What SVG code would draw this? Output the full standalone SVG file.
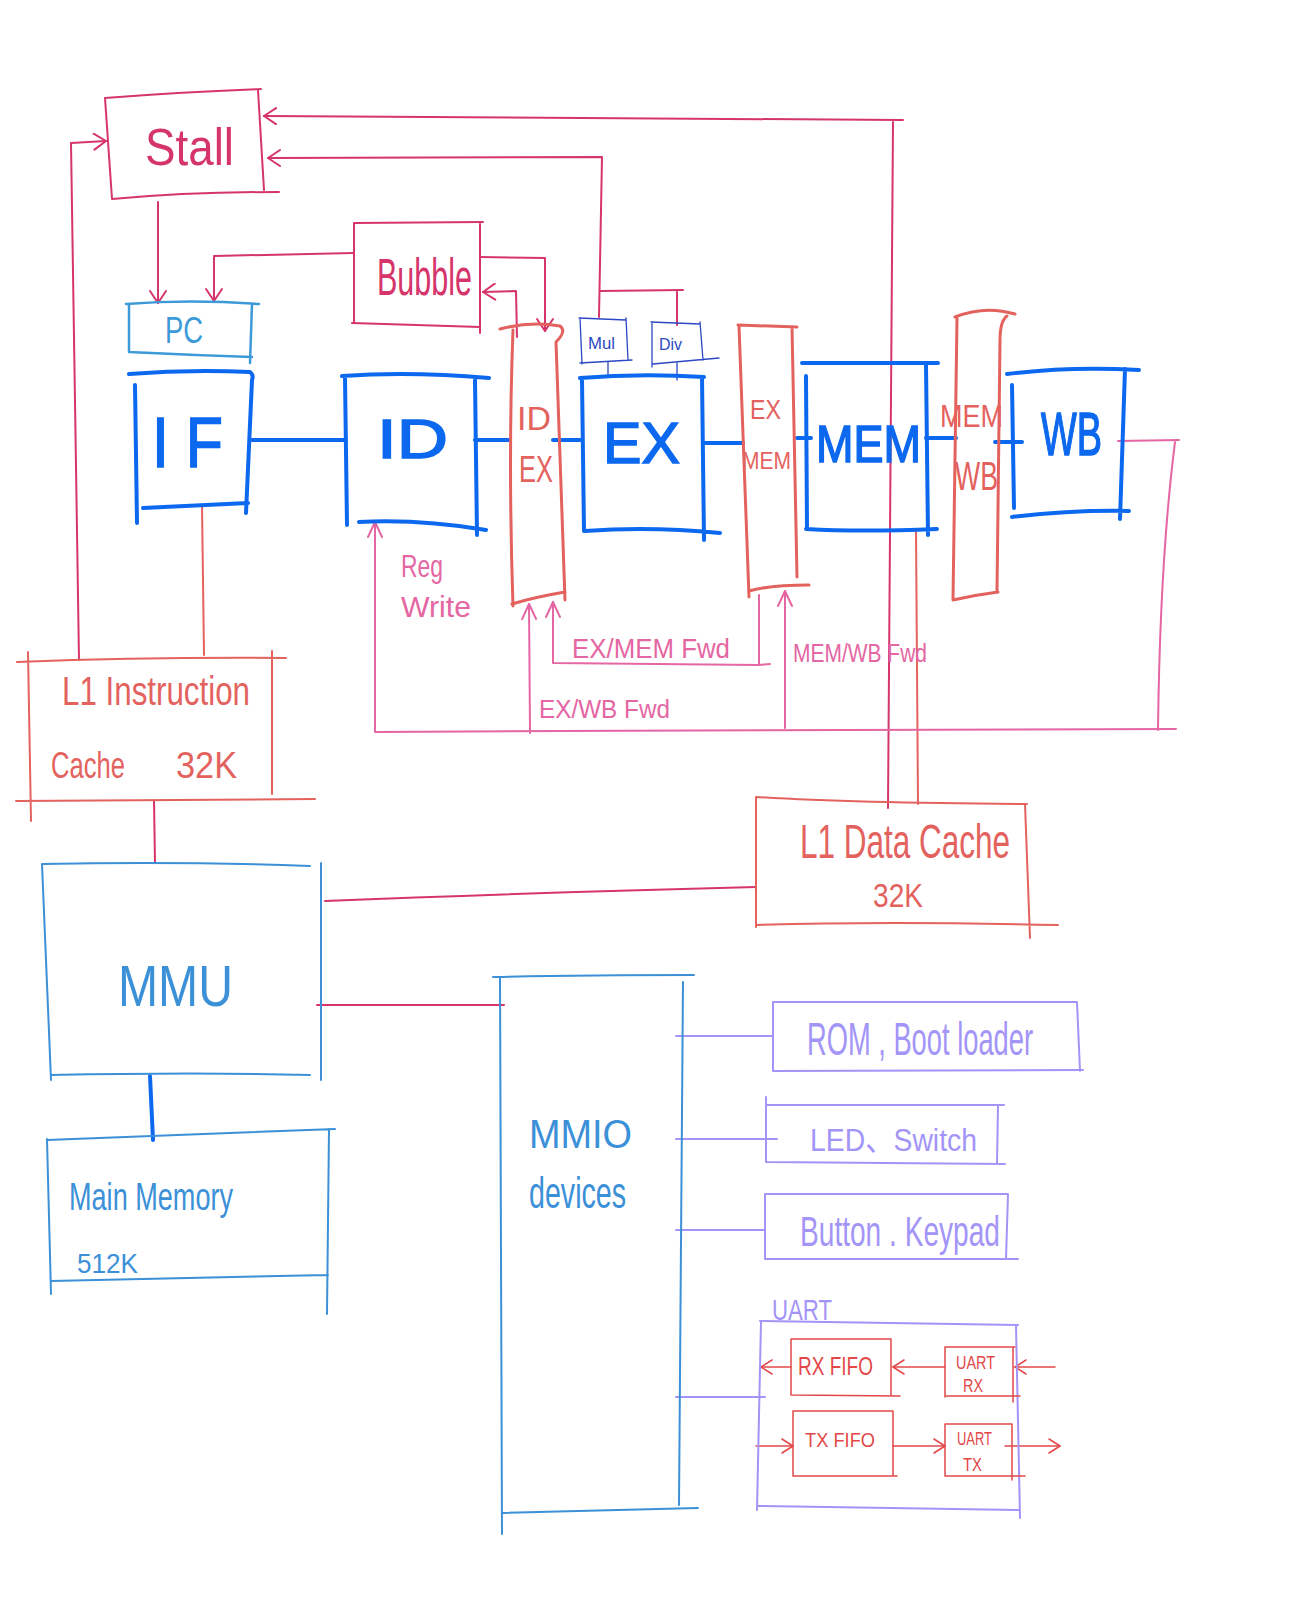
<svg xmlns="http://www.w3.org/2000/svg" width="1298" height="1614" viewBox="0 0 1298 1614">
<style>
path{fill:none;stroke-linecap:round;stroke-linejoin:round}
text{font-family:"Liberation Sans","Noto Sans CJK SC",sans-serif}
.cr{stroke:#d5356b;stroke-width:2}
.bl{stroke:#0c68ee;stroke-width:4}
.lb{stroke:#3d9ad8;stroke-width:2.5}
.sa{stroke:#e3625e;stroke-width:3}
.sa2{stroke:#e3625e;stroke-width:2}
.pk{stroke:#e466a3;stroke-width:2}
.mb{stroke:#3b90d8;stroke-width:2}
.pu{stroke:#a394f7;stroke-width:2}
.rd{stroke:#e2484a;stroke-width:1.5}
.db{stroke:#2c48c4;stroke-width:1.3}
.tcr{fill:#d5356b}
.tbl{fill:#0c68ee;stroke:#0c68ee;stroke-width:1.5}
.tlb{fill:#3d9ad8}
.tsa{fill:#e3625e}
.tpk{fill:#e466a3}
.tmb{fill:#3b90d8}
.tpu{fill:#a394f7}
.trd{fill:#e2484a}
.tdb{fill:#2c48c4}
</style>
<defs>
<marker id="aCr" viewBox="-14 -9 16 18" refX="0" refY="0" markerWidth="16" markerHeight="18" markerUnits="userSpaceOnUse" orient="auto"><path d="M-12,-8 L0,0 L-12,8" stroke="#d5356b" stroke-width="2"/></marker>
<marker id="aPk" viewBox="-16 -9 18 18" refX="0" refY="0" markerWidth="18" markerHeight="18" markerUnits="userSpaceOnUse" orient="auto"><path d="M-15,-7 L0,0 L-15,7" stroke="#e466a3" stroke-width="2"/></marker>
<marker id="aRd" viewBox="-14 -9 16 18" refX="0" refY="0" markerWidth="16" markerHeight="18" markerUnits="userSpaceOnUse" orient="auto"><path d="M-11,-7 L0,0 L-11,7" stroke="#e2484a" stroke-width="1.5"/></marker>
</defs>
<rect width="1298" height="1614" fill="#ffffff"/>

<g id="connectors">
<path class="cr" d="M79,660 L71,143 L106,141" marker-end="url(#aCr)"/>
<path class="cr" d="M888,808 L893,122 M903,120 L264,116" marker-end="url(#aCr)"/>
<path class="cr" d="M599,317 L602,157 L268,158" marker-end="url(#aCr)"/>
<path class="cr" d="M600,291 L683,290 M677,290 L677,325"/>
<path class="cr" d="M158,202 L158,303" marker-end="url(#aCr)"/>
<path class="cr" d="M354,253 L214,256 L214,301" marker-end="url(#aCr)"/>
<path class="cr" d="M480,257 L545,258 L545,331" marker-end="url(#aCr)"/>
<path class="cr" d="M517,337 L516,291 L483,292" marker-end="url(#aCr)"/>
<path class="cr" stroke-width="2.5" d="M325,901 Q520,893 756,887"/>
<path class="cr" stroke-width="2.5" d="M317,1005 L504,1005"/>
<path class="cr" stroke-width="3" d="M154,801 L155,863"/>
<path class="sa2" stroke-width="1.5" d="M202,505 L204,655"/>
<path class="sa2" d="M916,530 L918,804"/>
<path class="bl" d="M250,440 L346,440"/>
<path class="bl" d="M475,440 L509,440"/>
<path class="bl" d="M553,440 L582,440"/>
<path class="bl" d="M704,443 L743,443"/>
<path class="bl" d="M797,438 L811,438"/>
<path class="bl" d="M926,438 L956,438"/>
<path class="bl" d="M995,442 L1022,442"/>
<path class="bl" stroke-width="3" d="M150,1076 L153,1140"/>
<path class="pk" d="M1118,441 L1179,440 M1175,442 Q1160,560 1158,730"/>
<path class="pk" stroke-width="3" d="M1176,729 L560,731 L375,732 L375,522" marker-end="url(#aPk)"/>
<path class="pk" d="M530,733 L529,604" marker-end="url(#aPk)"/>
<path class="pk" d="M759,595 L759,665 L770,664 M759,665 L553,663 L553,602" marker-end="url(#aPk)"/>
<path class="pk" d="M785,728 L785,591" marker-end="url(#aPk)"/>
<path class="db" d="M608,362 L608,377 M677,363 L677,380"/>
<path class="pu" d="M676,1036 L773,1036 M676,1139 L777,1139 M676,1230 L765,1230 M676,1397 L765,1397"/>
<path class="rd" d="M1055,1367 L1015,1367" marker-end="url(#aRd)"/>
<path class="rd" d="M945,1367 L893,1367" marker-end="url(#aRd)"/>
<path class="rd" d="M791,1367 L761,1367" marker-end="url(#aRd)"/>
<path class="rd" d="M756,1446 L793,1446" marker-end="url(#aRd)"/>
<path class="rd" d="M893,1446 L945,1446" marker-end="url(#aRd)"/>
<path class="rd" d="M1005,1446 L1060,1446" marker-end="url(#aRd)"/>
</g>

<g id="stall">
<path class="cr" d="M105,98 Q180,92 261,89 M105,98 L112,199 M258,90 L264,190 M112,199 Q190,192 279,192"/>
<text x="145" y="165" font-size="52" textLength="89" lengthAdjust="spacingAndGlyphs" class="tcr">Stall</text>
</g>

<g id="bubble">
<path class="cr" d="M354,223 L483,222 M354,223 L354,323 M480,222 L480,333 M352,323 L480,327"/>
<text x="377" y="295" font-size="52" textLength="95" lengthAdjust="spacingAndGlyphs" class="tcr">Bubble</text>
</g>

<g id="pc">
<path class="lb" d="M126,304 Q190,299 259,304 M129,304 L129,352 M252,304 L250,363 M129,352 Q190,355 252,357"/>
<text x="165" y="343" font-size="36" textLength="38" lengthAdjust="spacingAndGlyphs" class="tlb">PC</text>
</g>

<g id="if">
<path class="bl" d="M129,374 Q190,369 250,372 Q254,375 252,380 L246,513 M135,385 L137,523 M143,508 L248,503"/>
<text x="152" y="467" font-size="70" textLength="71" lengthAdjust="spacingAndGlyphs" class="tbl">I F</text>
</g>

<g id="id">
<path class="bl" d="M342,376 Q410,371 489,378 M345,378 L347,525 M475,380 L477,535 M359,522 Q420,519 486,530"/>
<text x="377" y="458" font-size="56" textLength="71" lengthAdjust="spacingAndGlyphs" class="tbl">ID</text>
</g>

<g id="idex">
<path class="sa" d="M500,329 Q530,321 560,326 Q567,331 556,342 L565,600 M513,330 Q508,460 513,606 M512,604 Q535,597 565,592"/>
<text x="517" y="430" font-size="34" textLength="34" lengthAdjust="spacingAndGlyphs" class="tsa">ID</text>
<text x="519" y="482" font-size="36" textLength="34" lengthAdjust="spacingAndGlyphs" class="tsa">EX</text>
</g>

<g id="mul">
<path class="db" d="M579,318 L626,320 M626,318 L628,360 M580,363 L632,360 M580,318 L582,364"/>
<text x="588" y="349" font-size="16" textLength="27" lengthAdjust="spacingAndGlyphs" class="tdb">Mul</text>
</g>

<g id="div">
<path class="db" d="M651,322 L700,324 M700,322 L703,360 M653,364 L719,358 M652,322 L652,367"/>
<text x="659" y="350" font-size="17" textLength="23" lengthAdjust="spacingAndGlyphs" class="tdb">Div</text>
</g>

<g id="ex">
<path class="bl" d="M580,378 Q640,373 704,377 M582,380 L584,531 M702,377 L704,540 M585,531 Q650,526 720,533"/>
<text x="603" y="463" font-size="58" textLength="77" lengthAdjust="spacingAndGlyphs" class="tbl">EX</text>
</g>

<g id="exmem">
<path class="sa" d="M738,325 L797,327 M739,326 L749,597 M792,327 L797,577 M749,591 Q770,585 809,585"/>
<text x="750" y="419" font-size="28" textLength="31" lengthAdjust="spacingAndGlyphs" class="tsa">EX</text>
<text x="742" y="469" font-size="24" textLength="49" lengthAdjust="spacingAndGlyphs" class="tsa">MEM</text>
</g>

<g id="mem">
<path class="bl" d="M802,363 L938,363 M806,376 L807,529 M926,365 L928,535 M806,529 Q860,532 937,529"/>
<text x="816" y="462" font-size="52" textLength="105" lengthAdjust="spacingAndGlyphs" class="tbl">MEM</text>
</g>

<g id="memwb">
<path class="sa" d="M955,317 Q985,305 1015,314 M957,318 L953,600 M1007,316 Q1000,321 1000,340 L997,592 M953,600 Q975,595 998,592"/>
<text x="940" y="427" font-size="32" textLength="63" lengthAdjust="spacingAndGlyphs" class="tsa">MEM</text>
<text x="955" y="490" font-size="40" textLength="43" lengthAdjust="spacingAndGlyphs" class="tsa">WB</text>
</g>

<g id="wb">
<path class="bl" d="M1007,374 Q1070,366 1139,370 M1012,385 L1014,508 M1125,369 L1120,519 M1012,517 Q1070,510 1129,511"/>
<text x="1041" y="455" font-size="62" textLength="61" lengthAdjust="spacingAndGlyphs" class="tbl">WB</text>
</g>

<g id="labels">
<text x="401" y="577" font-size="32" textLength="42" lengthAdjust="spacingAndGlyphs" class="tpk">Reg</text>
<text x="401" y="617" font-size="30" textLength="70" lengthAdjust="spacingAndGlyphs" class="tpk">Write</text>
<text x="572" y="658" font-size="28" textLength="158" lengthAdjust="spacingAndGlyphs" class="tpk">EX/MEM  Fwd</text>
<text x="793" y="662" font-size="25" textLength="134" lengthAdjust="spacingAndGlyphs" class="tpk">MEM/WB Fwd</text>
<text x="539" y="718" font-size="25" textLength="131" lengthAdjust="spacingAndGlyphs" class="tpk">EX/WB  Fwd</text>
</g>

<g id="l1i">
<path class="sa2" d="M17,662 Q150,657 286,658 M28,652 L31,821 M272,651 L272,794 M16,801 L315,799"/>
<text x="62" y="705" font-size="40" textLength="188" lengthAdjust="spacingAndGlyphs" class="tsa">L1 Instruction</text>
<text x="51" y="778" font-size="36" textLength="74" lengthAdjust="spacingAndGlyphs" class="tsa">Cache</text>
<text x="176" y="778" font-size="36" textLength="61" lengthAdjust="spacingAndGlyphs" class="tsa">32K</text>
</g>

<g id="l1d">
<path class="sa2" d="M756,797 Q850,803 1027,804 M756,797 L756,927 M1025,804 L1030,938 M756,925 Q880,921 1058,925"/>
<text x="800" y="858" font-size="48" textLength="210" lengthAdjust="spacingAndGlyphs" class="tsa">L1 Data Cache</text>
<text x="873" y="907" font-size="34" textLength="50" lengthAdjust="spacingAndGlyphs" class="tsa">32K</text>
</g>

<g id="mmu">
<path class="mb" d="M42,864 Q180,861 310,866 M42,864 L51,1080 M321,863 L321,1080 M51,1075 Q200,1072 310,1075"/>
<text x="118" y="1006" font-size="58" textLength="115" lengthAdjust="spacingAndGlyphs" class="tmb">MMU</text>
</g>

<g id="mainmem">
<path class="mb" d="M47,1140 Q190,1134 335,1129 M47,1139 L51,1294 M329,1129 L327,1314 M51,1281 L328,1275"/>
<text x="69" y="1210" font-size="38" textLength="164" lengthAdjust="spacingAndGlyphs" class="tmb">Main Memory</text>
<text x="77" y="1273" font-size="28" textLength="61" lengthAdjust="spacingAndGlyphs" class="tmb">512K</text>
</g>

<g id="mmio">
<path class="mb" stroke-width="1.5" d="M493,977 Q580,975 694,975 M500,977 L502,1534 M683,982 L679,1505 M502,1513 L698,1508"/>
<text x="529" y="1148" font-size="40" textLength="103" lengthAdjust="spacingAndGlyphs" class="tmb">MMIO</text>
<text x="529" y="1208" font-size="44" textLength="97" lengthAdjust="spacingAndGlyphs" class="tmb">devices</text>
</g>

<g id="rom">
<path class="pu" d="M773,1002 L1077,1002 M773,1002 L773,1071 M1077,1002 L1080,1071 M773,1071 L1083,1070"/>
<text x="807" y="1055" font-size="46" textLength="226" lengthAdjust="spacingAndGlyphs" class="tpu">ROM , Boot loader</text>
</g>

<g id="led">
<path class="pu" d="M766,1105 L1004,1105 M766,1097 L766,1162 M998,1105 L997,1164 M766,1162 L1005,1164"/>
<text x="810" y="1151" font-size="32" textLength="167" lengthAdjust="spacingAndGlyphs" class="tpu">LED、Switch</text>
</g>

<g id="button">
<path class="pu" d="M765,1194 L1008,1194 M765,1194 L765,1259 M1008,1194 L1006,1259 M765,1259 L1018,1259"/>
<text x="800" y="1246" font-size="42" textLength="200" lengthAdjust="spacingAndGlyphs" class="tpu">Button . Keypad</text>
</g>

<g id="uart">
<path class="pu" d="M760,1321 L1018,1325 M761,1321 L757,1510 M1016,1325 L1020,1518 M758,1506 L1020,1510"/>
<text x="772" y="1320" font-size="30" textLength="60" lengthAdjust="spacingAndGlyphs" class="tpu">UART</text>
</g>

<g id="rxfifo">
<path class="rd" d="M791,1339 L891,1339 M791,1339 L791,1395 M891,1339 L891,1395 M791,1395 L900,1396"/>
<text x="798" y="1375" font-size="26" textLength="75" lengthAdjust="spacingAndGlyphs" class="trd">RX FIFO</text>
</g>

<g id="uartrx">
<path class="rd" d="M945,1347 L1015,1347 M945,1347 L945,1397 M1013,1347 L1013,1402 M945,1396 L1020,1396"/>
<text x="956" y="1369" font-size="18" textLength="39" lengthAdjust="spacingAndGlyphs" class="trd">UART</text>
<text x="963" y="1392" font-size="18" textLength="20" lengthAdjust="spacingAndGlyphs" class="trd">RX</text>
</g>

<g id="txfifo">
<path class="rd" d="M793,1411 L893,1411 M793,1411 L793,1476 M893,1411 L893,1476 M793,1476 L897,1476"/>
<text x="805" y="1447" font-size="21" textLength="70" lengthAdjust="spacingAndGlyphs" class="trd">TX FIFO</text>
</g>

<g id="uarttx">
<path class="rd" d="M945,1424 L1012,1424 M945,1424 L945,1476 M1012,1424 L1012,1480 M945,1476 L1025,1476"/>
<text x="957" y="1445" font-size="18" textLength="35" lengthAdjust="spacingAndGlyphs" class="trd">UART</text>
<text x="963" y="1471" font-size="18" textLength="19" lengthAdjust="spacingAndGlyphs" class="trd">TX</text>
</g>
</svg>
